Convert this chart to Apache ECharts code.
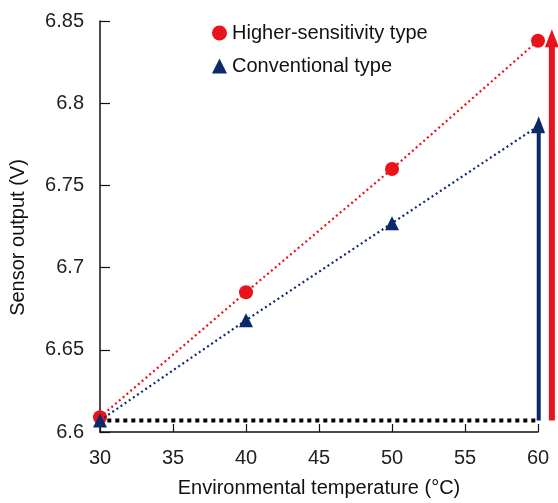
<!DOCTYPE html>
<html>
<head>
<meta charset="utf-8">
<script src="https://cdn.jsdelivr.net/npm/echarts@6/dist/echarts.min.js"></script>
<style>html,body{margin:0;padding:0;background:#fff}#c{width:558px;height:503px}</style>
</head>
<body>
<div id="c"></div>
<script>
const temperatures = [30, 40, 50, 60];
const higherSensitivity = [6.609, 6.685, 6.760, 6.838];
const conventional = [6.607, 6.668, 6.727, 6.786];
const baseline = [[30.5, 6.607], [59.85, 6.607]];
// arrows: [x, from, to]
const blueArrow = [60.05, 6.607, 6.792];
const redArrow = [60.95, 6.607, 6.845];
const yTicks = ['6.6', '6.65', '6.7', '6.75', '6.8', '6.85'];

const RED = '#e8131b';
const NAVY = '#0c2a6a';
const FONT = 'Liberation Sans, Arial, sans-serif';
const FS = 20;

function pairs(xs, ys) { return xs.map((x, i) => [x, ys[i]]); }

function arrowSeries(name, arr, color, width, headW, headH) {
  return {
    name: name, type: 'custom', clip: false, silent: true, z: 3,
    data: [arr],
    renderItem: function (params, api) {
      const p0 = api.coord([api.value(0), api.value(1)]);
      const p1 = api.coord([api.value(0), api.value(2)]);
      return {
        type: 'group',
        children: [
          { type: 'line', shape: { x1: p0[0], y1: p0[1], x2: p1[0], y2: p1[1] + headH - 2 },
            style: { stroke: color, lineWidth: width } },
          { type: 'polygon', shape: { points: [[p1[0], p1[1]], [p1[0] - headW / 2, p1[1] + headH], [p1[0] + headW / 2, p1[1] + headH]] },
            style: { fill: color } }
        ]
      };
    }
  };
}

const chart = echarts.init(document.getElementById('c'), null, { renderer: 'canvas' });
chart.setOption({
  animation: false,
  backgroundColor: '#fff',
  grid: { left: 96, right: 20, top: 21, bottom: 67, containLabel: false },
  legend: {
    orient: 'vertical',
    left: 207, top: 18,
    itemGap: 13,
    itemWidth: 15, itemHeight: 15,
    textStyle: { fontFamily: FONT, fontSize: FS, color: '#111' },
    data: [
      { name: 'Higher-sensitivity type', icon: 'circle', itemStyle: { color: RED } },
      { name: 'Conventional type', icon: 'triangle', itemStyle: { color: NAVY } }
    ]
  },
  xAxis: {
    type: 'value', min: 30, max: 60, interval: 5,
    name: 'Environmental temperature (°C)', nameLocation: 'middle', nameGap: 46,
    nameTextStyle: { fontFamily: FONT, fontSize: FS, color: '#111' },
    axisLine: { lineStyle: { color: '#111', width: 1.5 } },
    axisTick: { inside: true, length: 8, lineStyle: { color: '#111', width: 1.2 } },
    axisLabel: { fontFamily: FONT, fontSize: FS, color: '#222', margin: 16 },
    splitLine: { show: false }
  },
  yAxis: {
    type: 'value', min: 6.6, max: 6.85, interval: 0.05,
    name: 'Sensor output (V)', nameLocation: 'middle', nameGap: 72, nameRotate: 90,
    nameTextStyle: { fontFamily: FONT, fontSize: FS, color: '#111', padding: [0, 22, 0, 0] },
    axisLine: { show: true, lineStyle: { color: '#111', width: 1.5 } },
    axisTick: { show: true, inside: true, length: 10, lineStyle: { color: '#111', width: 1.2 } },
    axisLabel: {
      fontFamily: FONT, fontSize: FS, color: '#222', margin: 16,
      formatter: function (v) {
        const idx = Math.round((v - 6.6) / 0.05);
        return yTicks[idx] !== undefined ? yTicks[idx] : '';
      }
    },
    splitLine: { show: false }
  },
  series: [
    {
      name: 'baseline', type: 'line', data: baseline, symbol: 'none', silent: true,
      lineStyle: { color: '#000', width: 4, type: [4, 4] }, z: 1
    },
    arrowSeries('blueArrow', blueArrow, NAVY, 4, 12, 16),
    arrowSeries('redArrow', redArrow, RED, 6, 14, 18),
    {
      name: 'Higher-sensitivity type', type: 'line', data: pairs(temperatures, higherSensitivity),
      symbol: 'circle', symbolSize: 14, clip: false,
      lineStyle: { color: RED, width: 2.2, type: [2, 3] },
      itemStyle: { color: RED }, z: 4
    },
    {
      name: 'Conventional type', type: 'line', data: pairs(temperatures, conventional),
      symbol: 'triangle', symbolSize: 14, clip: false,
      lineStyle: { color: NAVY, width: 2.2, type: [2, 3] },
      itemStyle: { color: NAVY }, z: 5
    }
  ]
});
</script>
</body>
</html>
